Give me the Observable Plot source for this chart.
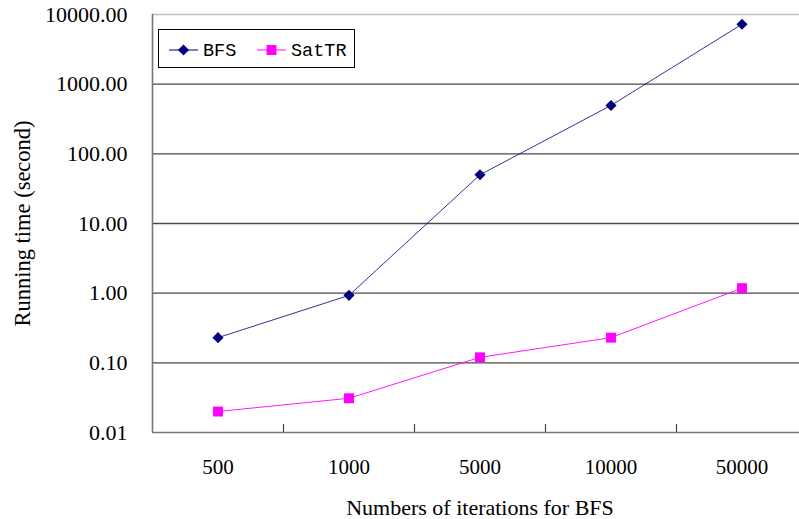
<!DOCTYPE html>
<html><head><meta charset="utf-8">
<script src="https://cdn.jsdelivr.net/npm/d3@7"></script>
<script src="https://cdn.jsdelivr.net/npm/@observablehq/plot@0.6"></script>
<style>
html,body{margin:0;padding:0;background:#fff;overflow:hidden;}
#wrap{position:relative;width:799px;height:519px;overflow:hidden;background:#fff;}
#wrap svg{display:block;}
#chart, #chart text{font-family:"Liberation Serif","Times New Roman",serif !important;}
#legend text{font-family:"Liberation Mono",monospace;}
</style></head><body><div id="wrap"></div>
<script>
const categories = ["500", "1000", "5000", "10000", "50000"];
const seriesNames = ["BFS", "SatTR"];
const bfs = [0.23, 0.93, 50, 495, 7250];
const satTR = [0.02, 0.031, 0.12, 0.23, 1.18];
const yTicks = [0.01, 0.1, 1, 10, 100, 1000, 10000];
const yLabel = "Running time (second)";
const xLabel = "Numbers of iterations for BFS";
const colors = ["#000080", "#ff00ff"];

const idx = categories.map((c, i) => i);
const bfsRows = categories.map((c, i) => ({i, v: bfs[i]}));
const satRows = categories.map((c, i) => ({i, v: satTR[i]}));
const boundaries = idx.slice(1).map(i => i - 0.5);
const xDomain = [-0.5, categories.length - 0.5];

const chart = Plot.plot({
  width: 807, height: 519,
  marginLeft: 152, marginRight: 0, marginTop: 14, marginBottom: 87,
  style: {fontFamily: "'Liberation Serif', 'Times New Roman', serif", fontSize: "21px", color: "#000", background: "#fff", maxWidth: "none", overflow: "visible"},
  x: {type: "linear", domain: xDomain},
  y: {type: "log", domain: [yTicks[0], yTicks[yTicks.length - 1]]},
  marks: [
    Plot.ruleY(yTicks.slice(1, -1), {stroke: "#4a4a4a", strokeWidth: 1.3}),
    Plot.ruleY([yTicks[yTicks.length - 1]], {stroke: "#c0c0c0", strokeWidth: 1.5}),
    Plot.ruleX(boundaries, {stroke: "#444", strokeWidth: 1.2, insetTop: 410}),
    Plot.ruleX([xDomain[0]], {stroke: "#777", strokeWidth: 1.6}),
    Plot.ruleY([yTicks[0]], {stroke: "#777", strokeWidth: 1.6}),
    Plot.axisY({ticks: yTicks, tickFormat: d3.format(".2f"), tickSize: 0, tickPadding: 25, label: null, fontSize: 22}),
    Plot.axisX({ticks: idx, tickFormat: i => categories[i], tickSize: 0, tickPadding: 27, label: null, fontSize: 21}),
    Plot.line(bfsRows, {x: "i", y: "v", stroke: colors[0], strokeWidth: 1, strokeOpacity: 0.8}),
    Plot.line(satRows, {x: "i", y: "v", stroke: colors[1], strokeWidth: 1, strokeOpacity: 0.9}),
    Plot.dot(bfsRows, {x: "i", y: "v", symbol: "diamond2", r: 5, fill: colors[0], stroke: "none"}),
    Plot.dot(satRows, {x: "i", y: "v", symbol: "square", r: 5.6, fill: colors[1], stroke: "none"}),
    Plot.text([yLabel], {text: d => d, frameAnchor: "left", textAnchor: "middle", lineAnchor: "middle", dx: -130, rotate: -90, fontSize: 22.5}),
    Plot.text([xLabel], {text: d => d, frameAnchor: "bottom", textAnchor: "middle", lineAnchor: "middle", dy: 75, fontSize: 22})
  ]
});
chart.setAttribute("id", "chart");
const wrap = document.getElementById("wrap");
wrap.appendChild(chart);

// Legend overlay
const leg = d3.select(wrap).append("svg").attr("id", "legend")
  .attr("width", 799).attr("height", 519)
  .style("position", "absolute").style("left", "0px").style("top", "0px");
leg.append("rect").attr("x", 158.5).attr("y", 29.5).attr("width", 196).attr("height", 38)
  .attr("fill", "#fff").attr("stroke", "#000").attr("stroke-width", 1);
const entryX = [169, 257];
seriesNames.forEach((name, k) => {
  const x0 = entryX[k];
  leg.append("line").attr("x1", x0).attr("x2", x0 + 29).attr("y1", 50).attr("y2", 50)
    .attr("stroke", colors[k]).attr("stroke-width", 1);
  const sym = k === 0 ? d3.symbolDiamond2 : d3.symbolSquare;
  const size = k === 0 ? Math.PI * 5 * 5 : Math.PI * 5.6 * 5.6;
  leg.append("path").attr("d", d3.symbol(sym, size)()).attr("transform", `translate(${x0 + 14.5},50)`)
    .attr("fill", colors[k]);
  leg.append("text").attr("x", x0 + 34).attr("y", 50).attr("dy", "0.35em")
    .attr("font-size", 18.5).attr("fill", "#000").text(name);
});
</script>
</body></html>
